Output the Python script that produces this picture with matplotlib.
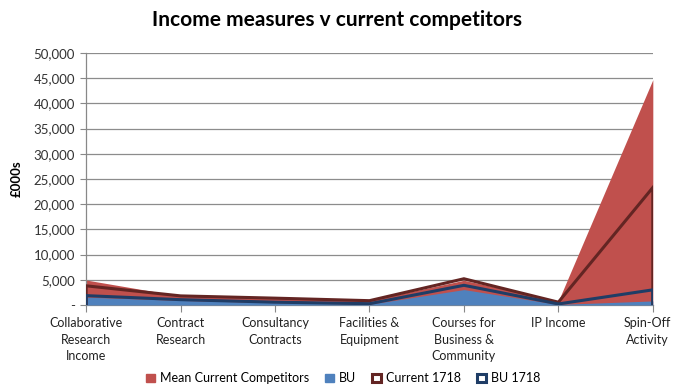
import matplotlib
matplotlib.use("Agg")
import matplotlib.pyplot as plt
import matplotlib.transforms as mtransforms
from matplotlib.patches import Patch
from matplotlib.ticker import FuncFormatter, MultipleLocator

plt.rcParams['font.family'] = ['Lato', 'DejaVu Sans']

categories = [
    "Collaborative\nResearch\nIncome",
    "Contract\nResearch",
    "Consultancy\nContracts",
    "Facilities &\nEquipment",
    "Courses for\nBusiness &\nCommunity",
    "IP Income",
    "Spin-Off\nActivity",
]
mean_competitors = [4950, 1750, 1450, 900, 4900, 800, 44700]
bu = [1550, 900, 450, 150, 3050, 100, 800]
current_1718 = [3800, 1800, 1350, 850, 5200, 550, 23300]
bu_1718 = [1850, 1050, 550, 250, 3900, 200, 3000]

RED = "#C0504D"
BLUE = "#4F81BD"
DARK_RED = "#632523"
DARK_BLUE = "#1F3D66"


def outline(values):
    # area border: drop to zero at both ends like an Excel area series
    xs = [0] + list(range(len(values))) + [len(values) - 1]
    ys = [0] + list(values) + [0]
    return xs, ys


def fmt(v, _):
    return "-" if v == 0 else f"{int(v):,}"


fig = plt.figure(figsize=(6.73, 3.87), dpi=100)
ax = fig.add_axes([0.128, 0.212, 0.842, 0.651])

x = range(len(categories))
ax.fill_between(x, 0, mean_competitors, color=RED, linewidth=0, zorder=2)
ax.fill_between(x, 0, bu, color=BLUE, linewidth=0, zorder=3)

xs, ys = outline(current_1718)
ax.plot(xs, ys, color=DARK_RED, linewidth=2.2, zorder=4, solid_joinstyle="miter")
xs, ys = outline(bu_1718)
ax.plot(xs, ys, color=DARK_BLUE, linewidth=2.2, zorder=5, solid_joinstyle="miter")

ax.set_xlim(0, len(categories) - 1)
ax.set_ylim(0, 50000)
ax.yaxis.set_major_locator(MultipleLocator(5000))
ax.yaxis.set_major_formatter(FuncFormatter(fmt))
ax.set_xticks(list(x))
ax.set_xticklabels(categories, fontsize=9, color="#222222", linespacing=1.45)
ax.tick_params(axis="y", labelsize=9.5, labelcolor="#333333", length=4,
               color="#888888", pad=4)
ax.tick_params(axis="x", length=5, color="#888888", pad=4)

# keep the last category label inside the figure edge
last = ax.get_xticklabels()[-1]
last.set_transform(last.get_transform() +
                   mtransforms.ScaledTranslation(-5 / 100, 0, fig.dpi_scale_trans))

ax.grid(axis="y", color="#8c8c8c", linewidth=0.9, zorder=0)
ax.set_axisbelow(True)
for side in ["top", "right"]:
    ax.spines[side].set_visible(False)
for side in ["left", "bottom"]:
    ax.spines[side].set_color("#888888")
    ax.spines[side].set_linewidth(0.9)

ax.set_ylabel("£000s", fontsize=9.5, fontweight="bold", labelpad=8)

fig.suptitle("Income measures v current competitors", fontsize=15,
             fontweight="bold", x=0.5, y=0.975)

handles = [
    Patch(facecolor=RED, edgecolor=RED, label="Mean Current Competitors"),
    Patch(facecolor=BLUE, edgecolor=BLUE, label="BU"),
    Patch(facecolor="white", edgecolor=DARK_RED, linewidth=2.2, label="Current 1718"),
    Patch(facecolor="white", edgecolor=DARK_BLUE, linewidth=2.2, label="BU 1718"),
]
fig.legend(handles=handles, loc="lower center", bbox_to_anchor=(0.51, -0.022),
           ncol=4, frameon=False, fontsize=9, handlelength=0.7,
           handleheight=0.7, handletextpad=0.4, columnspacing=1.3)

fig.savefig("out.png", dpi=100)
